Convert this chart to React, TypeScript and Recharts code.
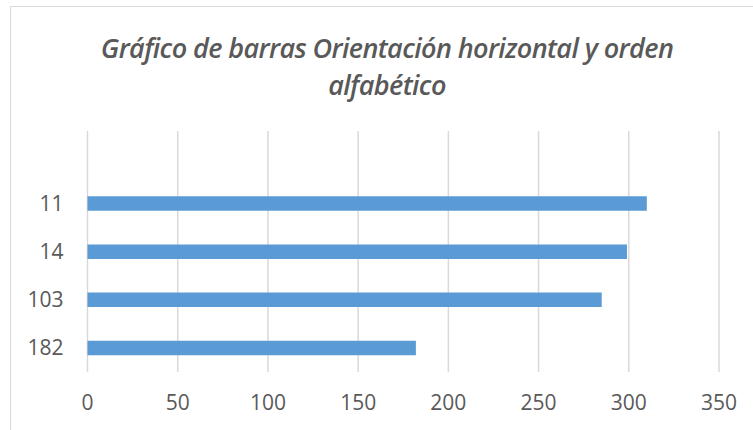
import { Bar, BarChart, CartesianGrid, XAxis, YAxis } from 'recharts';

// categories top to bottom (first row is an empty slot, as in the original sheet)
const categories = ['', '11', '14', '103', '182'];
const values: (number | null)[] = [null, 310, 299, 285, 182];
const xTicks = [0, 50, 100, 150, 200, 250, 300, 350];

const titleLines = ['Gráfico de barras Orientación horizontal y orden', 'alfabético'];

const data = categories.map((name, i) => ({ name, value: values[i] }));

const FONT = '"Open Sans", sans-serif';
const TEXT = '#595959';

export default function App() {
  return (
    <div
      style={{
        position: 'absolute',
        left: 0,
        top: 0,
        width: 753,
        height: 430,
        overflow: 'hidden',
        background: '#fff',
      }}
    >
      <div
        style={{
          position: 'absolute',
          left: 10,
          top: 6,
          width: 790,
          height: 460,
          border: '1.5px solid #d9d9d9',
        }}
      />
      <div
        style={{
          position: 'absolute',
          left: 0,
          top: 29,
          width: 774,
          textAlign: 'center',
          fontFamily: FONT,
          fontStyle: 'italic',
          fontWeight: 600,
          fontSize: 27,
          lineHeight: '37px',
          letterSpacing: -0.6,
          color: TEXT,
        }}
      >
        {titleLines.map((line) => (
          <div key={line}>{line}</div>
        ))}
      </div>
      <div style={{ position: 'absolute', left: 0, top: 0 }}>
        <BarChart
          width={753}
          height={430}
          data={data}
          layout="vertical"
          margin={{ top: 131, right: 34, left: 0, bottom: 0 }}
        >
          <CartesianGrid horizontal={false} stroke="#d9d9d9" strokeWidth={1.5} />
          <XAxis
            type="number"
            domain={[0, 350]}
            ticks={xTicks}
            axisLine={false}
            tickLine={false}
            tickSize={0}
            tickMargin={23}
            height={58}
            tick={{ fill: TEXT, fontSize: 21, fontFamily: FONT }}
          />
          <YAxis
            type="category"
            dataKey="name"
            width={87.5}
            axisLine={false}
            tickLine={false}
            tickSize={0}
            tickMargin={24}
            tick={{ fill: TEXT, fontSize: 21, fontFamily: FONT }}
          />
          <Bar dataKey="value" fill="#5b9bd5" barSize={14.5} isAnimationActive={false} />
        </BarChart>
      </div>
    </div>
  );
}
